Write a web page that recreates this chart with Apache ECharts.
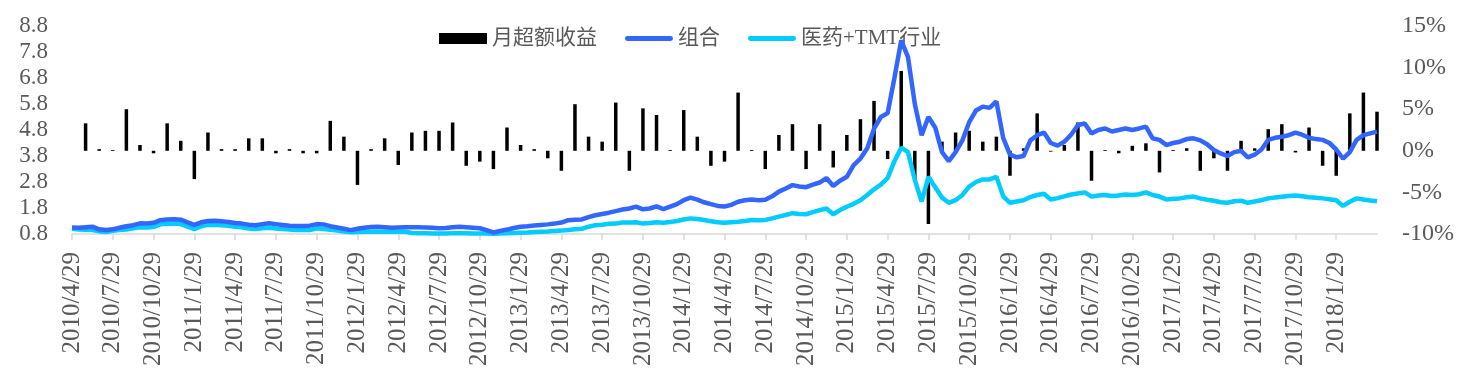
<!DOCTYPE html>
<html><head><meta charset="utf-8">
<script src="https://cdn.jsdelivr.net/npm/echarts@6/dist/echarts.min.js"></script>
<style>html,body{margin:0;padding:0;background:#fff}#c{width:1473px;height:381px}</style>
</head><body><div id="c"></div>
<script>
// Monthly excess return (%), month index 0 = 2010/4/29 ... 96 = 2018/4/29
const monthlyExcess = [null,
 3.3,0.2,0.1,5.0,0.7,-0.3,3.3,1.2,-3.4,2.2,0.2,0.2,1.5,1.5,-0.3,0.2,-0.3,-0.3,3.6,1.7,
 -4.1,0.2,1.5,-1.7,2.2,2.4,2.4,3.4,-1.8,-1.3,-2.2,2.8,0.7,0.2,-0.9,-2.4,5.6,1.7,1.1,5.8,
 -2.4,5.1,4.3,0.1,4.9,1.7,-1.8,-1.3,7.0,0.1,-2.2,1.9,3.2,-2.2,3.2,-2.0,1.9,3.8,6.0,-1.0,
 9.6,-3.5,-8.8,1.1,2.2,2.4,1.1,1.7,-3.0,0.3,4.5,-0.1,0.7,3.4,-3.6,0.1,-0.3,0.6,0.9,-2.6,
 0.1,0.3,-2.4,-0.9,-2.4,1.2,0.3,2.6,3.2,-0.2,2.8,-1.8,-3.0,4.5,7.0,4.7];

// Net value, half-month samples (193 points)
const portfolio = [
 1.05,1.04,1.06,1.08,0.98,0.95,0.98,1.04,1.10,1.14,1.21,1.20,1.23,1.33,1.36,1.37,1.35,1.25,1.15,1.25,
 1.30,1.31,1.29,1.26,1.22,1.20,1.16,1.14,1.18,1.21,1.18,1.15,1.12,1.11,1.11,1.12,1.18,1.17,1.10,1.05,
 1.00,0.95,1.00,1.04,1.07,1.08,1.06,1.04,1.05,1.06,
 1.06,1.06,1.05,1.04,1.02,1.03,1.06,1.08,1.06,1.04,1.02,0.95,0.86,0.92,0.97,1.03,1.08,1.10,1.13,1.15,
 1.17,1.20,1.24,1.33,1.35,1.36,1.45,1.52,1.57,1.62,1.68,1.74,1.78,1.85,1.75,1.78,1.86,1.76,1.85,1.95,
 2.10,2.20,2.12,2.02,1.95,1.88,1.86,1.92,2.04,2.10,
 2.13,2.10,2.12,2.25,2.43,2.55,2.68,2.63,2.60,2.70,2.78,2.95,2.65,2.85,3.00,3.45,3.70,4.10,4.85,5.30,
 5.45,6.80,8.25,7.60,5.80,4.60,5.30,4.90,3.95,3.60,3.95,4.40,5.10,5.55,5.70,5.65,5.90,4.50,3.85,3.75,
 3.80,4.40,4.60,4.70,4.30,4.20,4.35,4.62,
 4.99,5.05,4.67,4.80,4.86,4.74,4.80,4.86,4.80,4.86,4.93,4.48,4.42,4.22,4.30,4.35,4.45,4.48,4.40,4.25,
 4.03,3.90,3.80,3.95,4.00,3.75,3.85,4.05,4.42,4.50,4.54,4.60,4.70,4.62,4.50,4.45,4.42,4.30,4.05,3.70,
 3.95,4.42,4.60,4.67,4.74];

const industry = [
 1.00,0.97,0.96,0.95,0.90,0.88,0.92,0.95,0.97,1.02,1.06,1.05,1.07,1.17,1.19,1.20,1.18,1.08,0.99,1.10,
 1.15,1.16,1.14,1.12,1.08,1.06,1.01,0.99,1.02,1.04,1.01,0.99,0.97,0.95,0.95,0.95,1.02,0.99,0.96,0.93,
 0.90,0.87,0.88,0.89,0.89,0.89,0.89,0.89,0.89,0.89,
 0.84,0.83,0.83,0.82,0.82,0.82,0.83,0.83,0.83,0.82,0.82,0.82,0.81,0.82,0.83,0.84,0.85,0.86,0.88,0.89,
 0.90,0.92,0.93,0.95,0.98,1.00,1.08,1.14,1.16,1.19,1.20,1.24,1.24,1.25,1.20,1.22,1.25,1.23,1.26,1.30,
 1.36,1.40,1.38,1.34,1.29,1.25,1.23,1.25,1.27,1.30,
 1.34,1.33,1.34,1.40,1.47,1.53,1.60,1.57,1.56,1.64,1.72,1.78,1.56,1.72,1.85,1.96,2.10,2.30,2.52,2.70,
 2.95,3.60,4.12,3.95,2.88,2.05,3.00,2.60,2.20,2.00,2.10,2.30,2.62,2.80,2.90,2.90,3.00,2.25,2.00,2.05,
 2.10,2.22,2.30,2.35,2.12,2.18,2.25,2.32,
 2.36,2.40,2.24,2.28,2.30,2.26,2.28,2.32,2.30,2.33,2.40,2.30,2.24,2.13,2.16,2.17,2.21,2.24,2.17,2.12,
 2.08,2.02,2.00,2.06,2.08,2.00,2.05,2.10,2.17,2.20,2.23,2.26,2.28,2.25,2.21,2.19,2.17,2.14,2.10,1.88,
 2.04,2.17,2.13,2.09,2.06];

const seriesNames = ['月超额收益', '组合', '医药+TMT行业'];

// half-month category dates
const categories = [];
for (let k = 0; k < 97; k++) {
  const mm = 3 + k;
  const y = 2010 + Math.floor(mm / 12), mo = mm % 12 + 1;
  categories.push(y + '/' + mo + '/29');
  if (k < 96) {
    const mm2 = mm + 1;
    const y2 = 2010 + Math.floor(mm2 / 12), mo2 = mm2 % 12 + 1;
    categories.push(y2 + '/' + mo2 + '/14');
  }
}
const barData = categories.map((c, i) => (i % 2 === 0 ? monthlyExcess[i / 2] : null));

const serif = "'Liberation Serif','Times New Roman',serif";
const labelColor = '#595959';
const showIdx = (i) => i % 6 === 0 && i < 192;
const lineIcon = 'path://M5,0 L95,0 A5,5 0 0 1 95,10 L5,10 A5,5 0 0 1 5,0 Z';

const chart = echarts.init(document.getElementById('c'), null, {renderer: 'canvas'});
chart.setOption({
  animation: false,
  backgroundColor: '#fff',
  grid: {left: 72, right: 96, top: 26, bottom: 147, containLabel: false},
  legend: {
    left: 434, top: 23, itemWidth: 48, itemHeight: 11, itemGap: 28,
    textStyle: {fontSize: 21, color: labelColor, fontFamily: "'Liberation Serif','Noto Sans CJK SC',serif"},
    data: [
      {name: seriesNames[0], icon: 'rect'},
      {name: seriesNames[1], icon: lineIcon},
      {name: seriesNames[2], icon: lineIcon}
    ]
  },
  xAxis: {
    type: 'category', data: categories, boundaryGap: false,
    axisLine: {onZero: false, lineStyle: {color: '#d9d9d9', width: 1.5}},
    axisTick: {show: true, interval: showIdx, length: 6, lineStyle: {color: '#d9d9d9', width: 1.5}},
    axisLabel: {interval: showIdx, rotate: 90, margin: 18, fontSize: 25, color: labelColor, fontFamily: serif},
    splitLine: {show: false}
  },
  yAxis: [
    {type: 'value', min: 0.8, max: 8.8, interval: 1, position: 'left',
     axisLine: {show: false}, axisTick: {show: false}, splitLine: {show: false},
     axisLabel: {formatter: v => v.toFixed(1), margin: 24, fontSize: 23, color: labelColor, fontFamily: serif}},
    {type: 'value', min: -10, max: 15, interval: 5, position: 'right',
     axisLine: {show: false}, axisTick: {show: false}, splitLine: {show: false},
     axisLabel: {formatter: v => v + '%', margin: 25, fontSize: 24, color: labelColor, fontFamily: serif}}
  ],
  series: [
    {name: seriesNames[0], type: 'bar', yAxisIndex: 1, data: barData, barWidth: 3.5, z: 1,
     itemStyle: {color: '#000000'}},
    {name: seriesNames[1], type: 'line', yAxisIndex: 0, data: portfolio, symbol: 'none', clip: false, z: 4,
     lineStyle: {color: '#3366FF', width: 4.5}, itemStyle: {color: '#3366FF'}},
    {name: seriesNames[2], type: 'line', yAxisIndex: 0, data: industry, symbol: 'none', clip: false, z: 3,
     lineStyle: {color: '#00CCFF', width: 4.5}, itemStyle: {color: '#00CCFF'}}
  ]
});
</script></body></html>
